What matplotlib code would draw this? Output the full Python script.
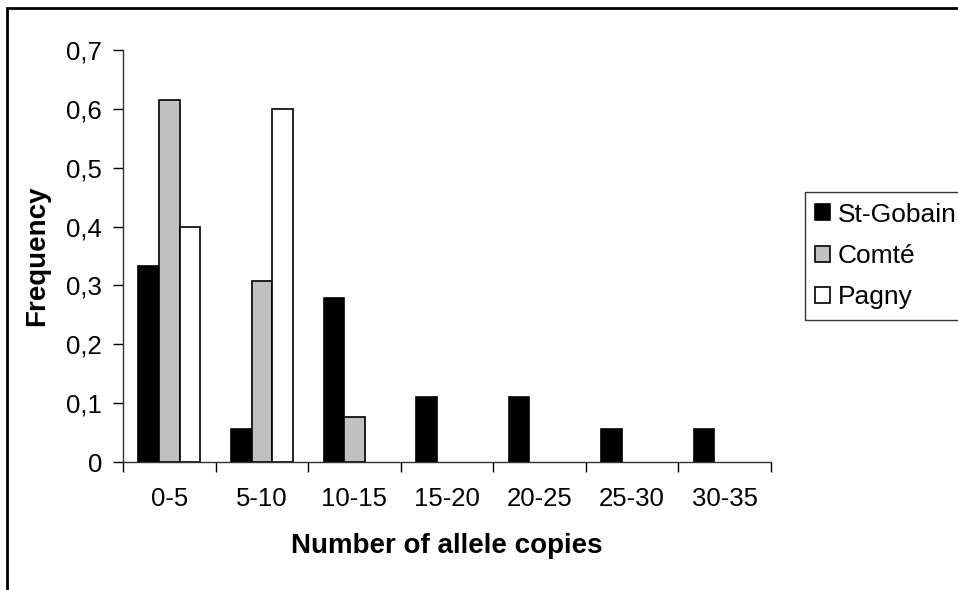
import numpy as np
import matplotlib.pyplot as plt
from matplotlib.patches import Patch, Rectangle

plt.rcParams['font.family'] = ['Liberation Sans', 'DejaVu Sans']

# allele copy classes and frequency per population
categories = ['0-5', '5-10', '10-15', '15-20', '20-25', '25-30', '30-35']
st_gobain = [0.333, 0.056, 0.278, 0.111, 0.111, 0.056, 0.056]
comte = [0.615, 0.308, 0.077, 0, 0, 0, 0]
pagny = [0.4, 0.6, 0, 0, 0, 0, 0]

series = [('St-Gobain', st_gobain, 'black'),
          ('Comté', comte, '#c0c0c0'),
          ('Pagny', pagny, 'white')]

fig = plt.figure(figsize=(9.58, 5.90), dpi=100)
ax = fig.add_axes([0.1284, 0.2169, 0.8048 - 0.1284, 0.9153 - 0.2169])

x = np.arange(len(categories))
w = 0.222
for k, (name, vals, col) in enumerate(series):
    h = np.array(vals, dtype=float)
    h[h == 0] = np.nan  # empty classes: no bar drawn
    ax.bar(x + (k - 1) * w, h, width=w, color=col, edgecolor='black',
           linewidth=1.2, label=name)

ax.set_xlim(-0.5, len(categories) - 0.5)
ax.set_ylim(0, 0.7)
ax.set_yticks(np.arange(0, 0.71, 0.1))
ax.set_yticklabels(['0' if v == 0 else f'{v:.1f}'.replace('.', ',')
                    for v in np.arange(0, 0.71, 0.1)])
ax.set_xticks(x)
ax.set_xticklabels(categories)
ax.set_xticks(np.arange(-0.5, len(categories)), minor=True)
ax.tick_params(axis='x', which='major', length=0, pad=18, labelsize=18.5)
ax.tick_params(axis='x', which='minor', length=7, width=1, direction='out')
ax.tick_params(axis='y', length=7, width=1, direction='out', labelsize=18.5, pad=8)

for s in ['top', 'right']:
    ax.spines[s].set_visible(False)
for s in ['left', 'bottom']:
    ax.spines[s].set_linewidth(1)
    ax.spines[s].set_color('#333333')

ax.set_xlabel('Number of allele copies', fontsize=20, fontweight='bold', labelpad=16)
ax.set_ylabel('Frequency', fontsize=20, fontweight='bold', labelpad=12)

handles = [Patch(facecolor=c, edgecolor='black', linewidth=1.2, label=n) for n, _, c in series]
leg = fig.legend(handles=handles, loc='upper left', bbox_to_anchor=(0.840, 0.6746),
                 fontsize=19, frameon=True, fancybox=False, handlelength=0.55,
                 handleheight=0.55, handletextpad=0.3, borderpad=0.4, labelspacing=0.66,
                 borderaxespad=0)
leg.get_frame().set_edgecolor('black')
leg.get_frame().set_linewidth(1)

# outer chart border (runs off the right and bottom edges)
fig.patches.append(Rectangle((7 / 958, -0.1), 1.2, 1.1 - 8 / 590, transform=fig.transFigure,
                             fill=False, edgecolor='black', linewidth=2))

fig.savefig('out.png', dpi=100)
